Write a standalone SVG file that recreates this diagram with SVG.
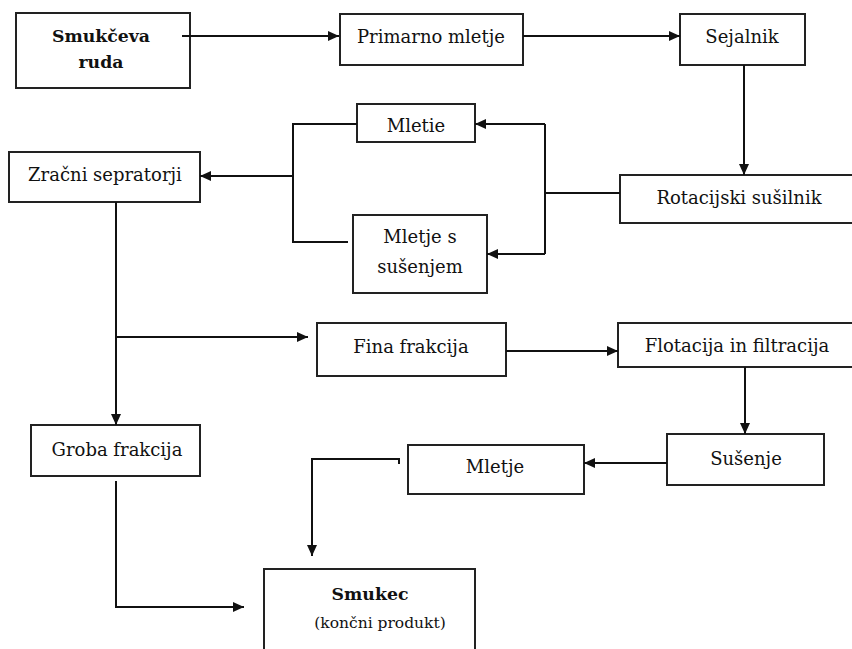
<svg xmlns="http://www.w3.org/2000/svg" width="852" height="649" viewBox="0 0 852 649">
<defs>
<marker id="arr" markerUnits="userSpaceOnUse" markerWidth="11" markerHeight="10" refX="11" refY="5" orient="auto">
<path d="M0,0 L11,5 L0,10 z" fill="#111"/>
</marker>
<style>
.box{fill:#fff;stroke:#222;stroke-width:2}
.t{font-family:'DejaVu Serif','Liberation Serif',serif;font-size:18px;fill:#111;text-anchor:middle}
.b{font-weight:bold;font-size:17.3px}
.c{fill:none;stroke:#111;stroke-width:2}
.a{marker-end:url(#arr)}
</style>
</defs>
<rect width="852" height="649" fill="#fff"/>
<g id="n-smukceva-ruda"><rect class="box" x="16" y="13" width="174" height="75"/><text class="t b" x="101" y="42">Smukčeva</text><text class="t b" x="101" y="68">ruda</text></g>
<g id="n-primarno"><rect class="box" x="340" y="14" width="183" height="51"/><text class="t" x="431" y="43">Primarno mletje</text></g>
<g id="n-sejalnik"><rect class="box" x="680" y="14" width="125" height="51"/><text class="t" x="742" y="43">Sejalnik</text></g>
<g id="n-mletie"><rect class="box" x="357" y="104" width="118" height="38"/><text class="t" x="416" y="132">Mletie</text></g>
<g id="n-zracni"><rect class="box" x="9" y="152" width="191" height="50"/><text class="t" x="105" y="181">Zračni sepratorji</text></g>
<g id="n-rotacijski"><rect class="box" x="620" y="175" width="240" height="48"/><text class="t" x="739" y="204">Rotacijski sušilnik</text></g>
<g id="n-mletje-s-susenjem"><rect class="box" x="353" y="215" width="134" height="78"/><text class="t" x="420" y="243">Mletje s</text><text class="t" x="420" y="273">sušenjem</text></g>
<g id="n-fina"><rect class="box" x="317" y="323" width="189" height="53"/><text class="t" x="411" y="353">Fina frakcija</text></g>
<g id="n-flotacija"><rect class="box" x="618" y="323" width="242" height="44"/><text class="t" x="737" y="352">Flotacija in filtracija</text></g>
<g id="n-groba"><rect class="box" x="31" y="425" width="169" height="51"/><text class="t" x="117" y="456">Groba frakcija</text></g>
<g id="n-susenje"><rect class="box" x="667" y="434" width="157" height="51"/><text class="t" x="746" y="465">Sušenje</text></g>
<g id="n-mletje"><rect class="box" x="408" y="445" width="176" height="49"/><text class="t" x="495" y="473">Mletje</text></g>
<g id="n-smukec"><rect class="box" x="264" y="569" width="211" height="90"/><text class="t b" x="370" y="600">Smukec</text><text class="t" x="380" y="628" style="font-size:15.5px">(končni produkt)</text></g>
<g id="connectors">
<path class="c a" d="M182,36 L339,36"/>
<path class="c a" d="M523,36 L680,36"/>
<path class="c a" d="M744,65 L744,175"/>
<path class="c" d="M620,193 L545,193 M545,124 L545,254"/>
<path class="c a" d="M545,124 L475,124"/>
<path class="c a" d="M545,254 L487,254"/>
<path class="c" d="M357,124 L293,124 L293,242 L348,242"/>
<path class="c a" d="M293,176 L200,176"/>
<path class="c a" d="M116,202 L116,425"/>
<path class="c a" d="M116,337 L308,337"/>
<path class="c a" d="M506,351 L618,351"/>
<path class="c a" d="M745,367 L745,434"/>
<path class="c a" d="M667,463 L584,463"/>
<path class="c a" d="M399,464 L399,459 L312,459 L312,556"/>
<path class="c a" d="M116,481 L116,607 L244,607"/>
</g>
</svg>
